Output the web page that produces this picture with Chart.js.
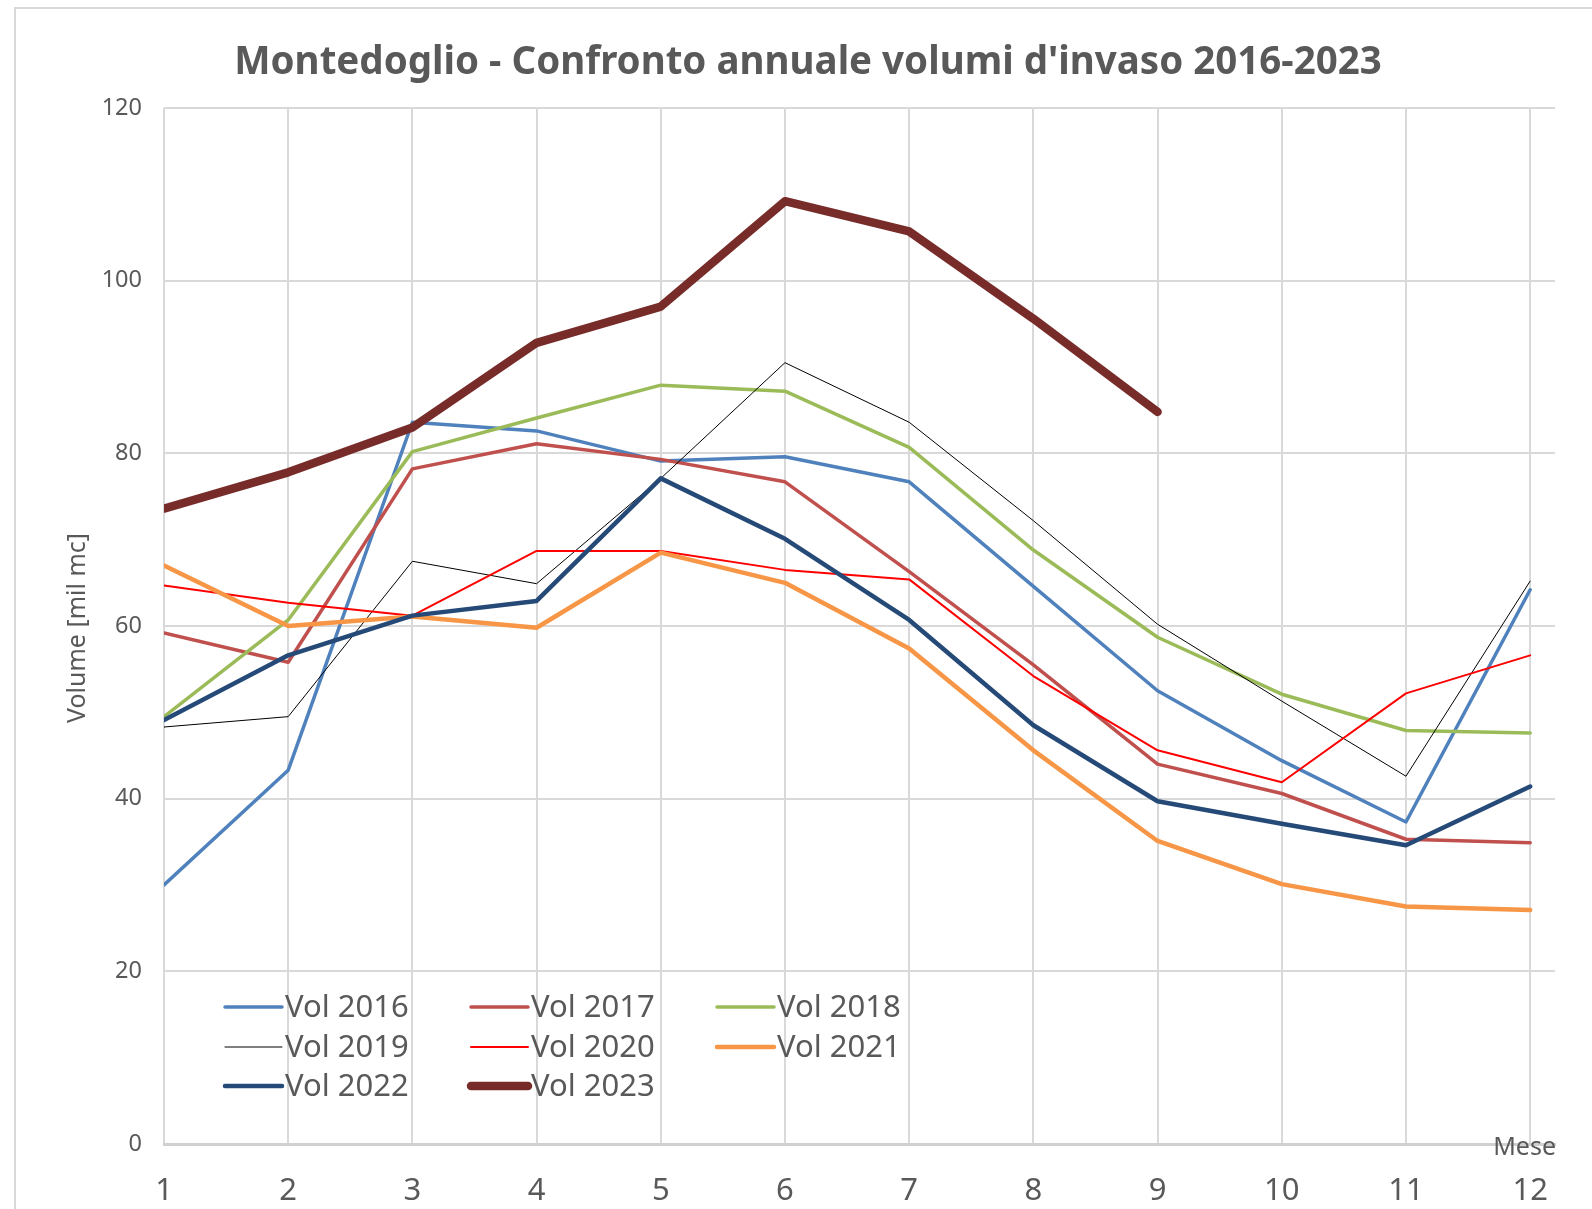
<!DOCTYPE html>
<html>
<head>
<meta charset="utf-8">
<script src="https://cdn.jsdelivr.net/npm/chart.js@4.4.1/dist/chart.umd.min.js"></script>
<style>
  html, body { margin: 0; padding: 0; background: #ffffff; }
  #wrap { position: relative; width: 1592px; height: 1209px; overflow: hidden; }
  #frame { position: absolute; left: 14px; top: 7px; width: 1700px; height: 1400px;
           border-left: 2px solid #d9d9d9; border-top: 2px solid #d9d9d9; }
  canvas { position: absolute; left: 0; top: 0; }
</style>
</head>
<body>
<div id="wrap">
  <div id="frame"></div>
  <canvas id="c" width="1592" height="1209"></canvas>
</div>
<script>
const chartTitle = "Montedoglio - Confronto annuale volumi d'invaso 2016-2023";
const yAxisTitle = "Volume [mil mc]";
const xAxisTitle = "Mese";
const months = [1, 2, 3, 4, 5, 6, 7, 8, 9, 10, 11, 12];
const yTicks = [0, 20, 40, 60, 80, 100, 120];

const seriesLabels = ["Vol 2016", "Vol 2017", "Vol 2018", "Vol 2019", "Vol 2020", "Vol 2021", "Vol 2022", "Vol 2023"];
const vol2016 = [30.0, 43.3, 83.6, 82.6, 79.1, 79.6, 76.7, 64.6, 52.5, 44.4, 37.3, 64.2];
const vol2017 = [59.2, 55.8, 78.2, 81.1, 79.3, 76.7, 66.3, 55.5, 44.0, 40.6, 35.3, 34.9];
const vol2018 = [49.5, 60.7, 80.2, 84.1, 87.9, 87.2, 80.7, 68.8, 58.7, 52.1, 47.9, 47.6];
const vol2019 = [48.3, 49.5, 67.5, 64.9, 77.1, 90.5, 83.6, 72.2, 60.2, 51.3, 42.6, 65.2];
const vol2020 = [64.7, 62.7, 61.2, 68.7, 68.7, 66.5, 65.4, 54.2, 45.6, 41.9, 52.2, 56.6];
const vol2021 = [67.0, 60.0, 61.1, 59.8, 68.5, 65.0, 57.4, 45.6, 35.1, 30.1, 27.5, 27.1];
const vol2022 = [49.1, 56.6, 61.2, 62.9, 77.1, 70.1, 60.7, 48.5, 39.7, 37.1, 34.6, 41.4];
const vol2023 = [73.6, 77.8, 83.0, 92.8, 97.0, 109.2, 105.7, 95.6, 84.8];

const allSeries = [vol2016, vol2017, vol2018, vol2019, vol2020, vol2021, vol2022, vol2023];
const colors = ["#4f81bd", "#c0504d", "#9bbb59", "#000000", "#ff0000", "#f79646", "#254a78", "#772c2a"];
const widths = [3.5, 3.5, 3.5, 1, 2, 4.5, 4.5, 8.5];

const TEXT = "#595959";
const FONT = "'Noto Sans', 'Open Sans', sans-serif";

const datasets = allSeries.map((vals, i) => ({
  label: seriesLabels[i],
  data: vals.map((v, k) => ({ x: months[k], y: v })),
  borderColor: colors[i],
  backgroundColor: colors[i],
  borderWidth: widths[i],
  pointRadius: 0,
  pointHoverRadius: 0,
  tension: 0,
  fill: false,
  borderCapStyle: 'round',
  borderJoinStyle: 'round',
  order: 8 - i
}));

const decorPlugin = {
  id: 'decor',
  afterDraw(chart) {
    const ctx = chart.ctx;
    const area = chart.chartArea;
    ctx.save();
    // title
    ctx.fillStyle = TEXT;
    ctx.font = "bold 38.5px " + FONT;
    ctx.textAlign = 'center';
    ctx.textBaseline = 'middle';
    ctx.fillText(chartTitle, 808, 63);
    // y axis title
    ctx.save();
    ctx.translate(78, 628);
    ctx.rotate(-Math.PI / 2);
    ctx.font = "25px " + FONT;
    ctx.fillText(yAxisTitle, 0, 0);
    ctx.restore();
    // x axis title
    ctx.font = "25px " + FONT;
    ctx.textAlign = 'right';
    ctx.fillText(xAxisTitle, 1556, area.bottom + 4);
    // legend
    const colX = [225, 471, 717];
    const rowY = [1007, 1047, 1086];
    const lineLen = 57;
    ctx.font = "31px " + FONT;
    ctx.textAlign = 'left';
    chart.data.datasets.forEach((ds, i) => {
      const cx = colX[i % 3];
      const cy = rowY[Math.floor(i / 3)];
      ctx.strokeStyle = ds.borderColor;
      ctx.lineWidth = ds.borderWidth;
      ctx.lineCap = 'round';
      ctx.beginPath();
      ctx.moveTo(cx, cy);
      ctx.lineTo(cx + lineLen, cy);
      ctx.stroke();
      ctx.fillStyle = TEXT;
      ctx.fillText(ds.label, cx + lineLen + 3, cy + 1);
    });
    ctx.restore();
  }
};

new Chart(document.getElementById('c'), {
  type: 'line',
  data: { datasets },
  options: {
    responsive: false,
    devicePixelRatio: 1,
    animation: false,
    events: [],
    layout: { padding: { left: 0, top: 108, right: 37, bottom: 0 } },
    plugins: { legend: { display: false }, title: { display: false }, tooltip: { enabled: false } },
    scales: {
      x: {
        type: 'linear',
        min: 1,
        max: 12.2,
        afterBuildTicks(scale) { scale.ticks = months.map(v => ({ value: v })); },
        afterFit(scale) { scale.height = 65; },
        grid: { color: '#d9d9d9', lineWidth: 2, drawTicks: false },
        border: { display: true, color: '#d0d0d0', width: 3 },
        ticks: { color: TEXT, font: { family: FONT, size: 31 }, padding: 29, maxRotation: 0, autoSkip: false }
      },
      y: {
        min: 0,
        max: 120,
        afterBuildTicks(scale) { scale.ticks = yTicks.map(v => ({ value: v })); },
        afterFit(scale) { scale.width = 164; },
        grid: { color: '#d9d9d9', lineWidth: 2, drawTicks: false },
        border: { display: false },
        ticks: { color: TEXT, font: { family: FONT, size: 23.5 }, padding: 22 }
      }
    }
  },
  plugins: [decorPlugin]
});
</script>
</body>
</html>
